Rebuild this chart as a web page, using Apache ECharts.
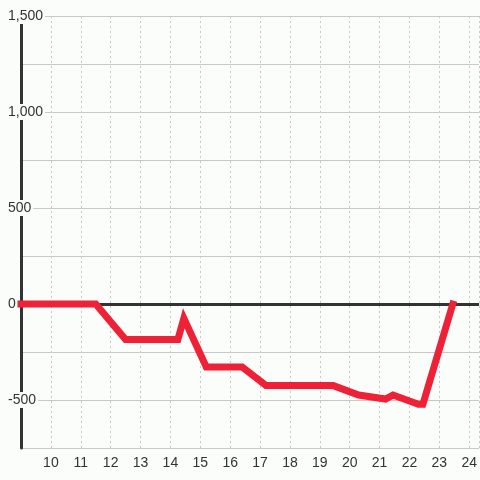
<!DOCTYPE html>
<html>
<head>
<meta charset="utf-8">
<script src="https://cdn.jsdelivr.net/npm/echarts@6/dist/echarts.min.js"></script>
<style>
html,body{margin:0;padding:0;background:#fbfdfb;}
#c{width:480px;height:480px;}
</style>
</head>
<body>
<div id="c"></div>
<script>
const xValues = [9, 11.5, 12.5, 14.25, 14.45, 15.2, 16.4, 17.2, 19.45, 20.3, 21.2, 21.45, 22.3, 22.45, 23.45];
const yValues = [0, 0, -185, -185, -75, -328, -328, -425, -425, -474, -495, -474, -522, -522, 0];
const yTickLabels = [-500, 0, 500, 1000, 1500];

const chart = echarts.init(document.getElementById('c'), null, {renderer: 'canvas'});
const lineData = xValues.map((x, i) => [x, yValues[i]]);
chart.setOption({
  backgroundColor: '#fbfdfb',
  animation: false,
  grid: {left: 21, right: 0, top: 16, bottom: 32, containLabel: false},
  xAxis: {
    type: 'value', min: 9, max: 24.33, interval: 1,
    axisLine: {show: false},
    axisTick: {show: false},
    axisLabel: {
      showMinLabel: false, showMaxLabel: false,
      color: '#333', fontSize: 14, fontFamily: 'Liberation Sans', margin: 8
    },
    splitLine: {show: true, lineStyle: {color: '#c8c8c8', width: 1, type: [2, 3]}}
  },
  yAxis: {
    type: 'value', min: -750, max: 1500, interval: 250,
    axisLine: {show: true, onZero: false, lineStyle: {color: '#333', width: 3}},
    axisTick: {show: false},
    axisLabel: {
      customValues: yTickLabels,
      align: 'left', margin: 13,
      color: '#333', fontSize: 14, fontFamily: 'Liberation Sans',
      backgroundColor: '#fbfdfb', padding: [1, 2, 1, 0]
    },
    splitLine: {show: true, lineStyle: {color: '#c8c8c8', width: 1}}
  },
  series: [
    {
      type: 'line', data: [], z: 1, silent: true,
      markLine: {
        silent: true, symbol: 'none', label: {show: false},
        lineStyle: {color: '#333', width: 3, type: 'solid'},
        data: [{yAxis: 0}]
      }
    },
    {
      type: 'line', data: lineData, z: 5, clip: false,
      showSymbol: false, symbol: 'none',
      lineStyle: {color: '#ee2136', width: 7, cap: 'square', join: 'miter'}
    }
  ]
});
</script>
</body>
</html>
